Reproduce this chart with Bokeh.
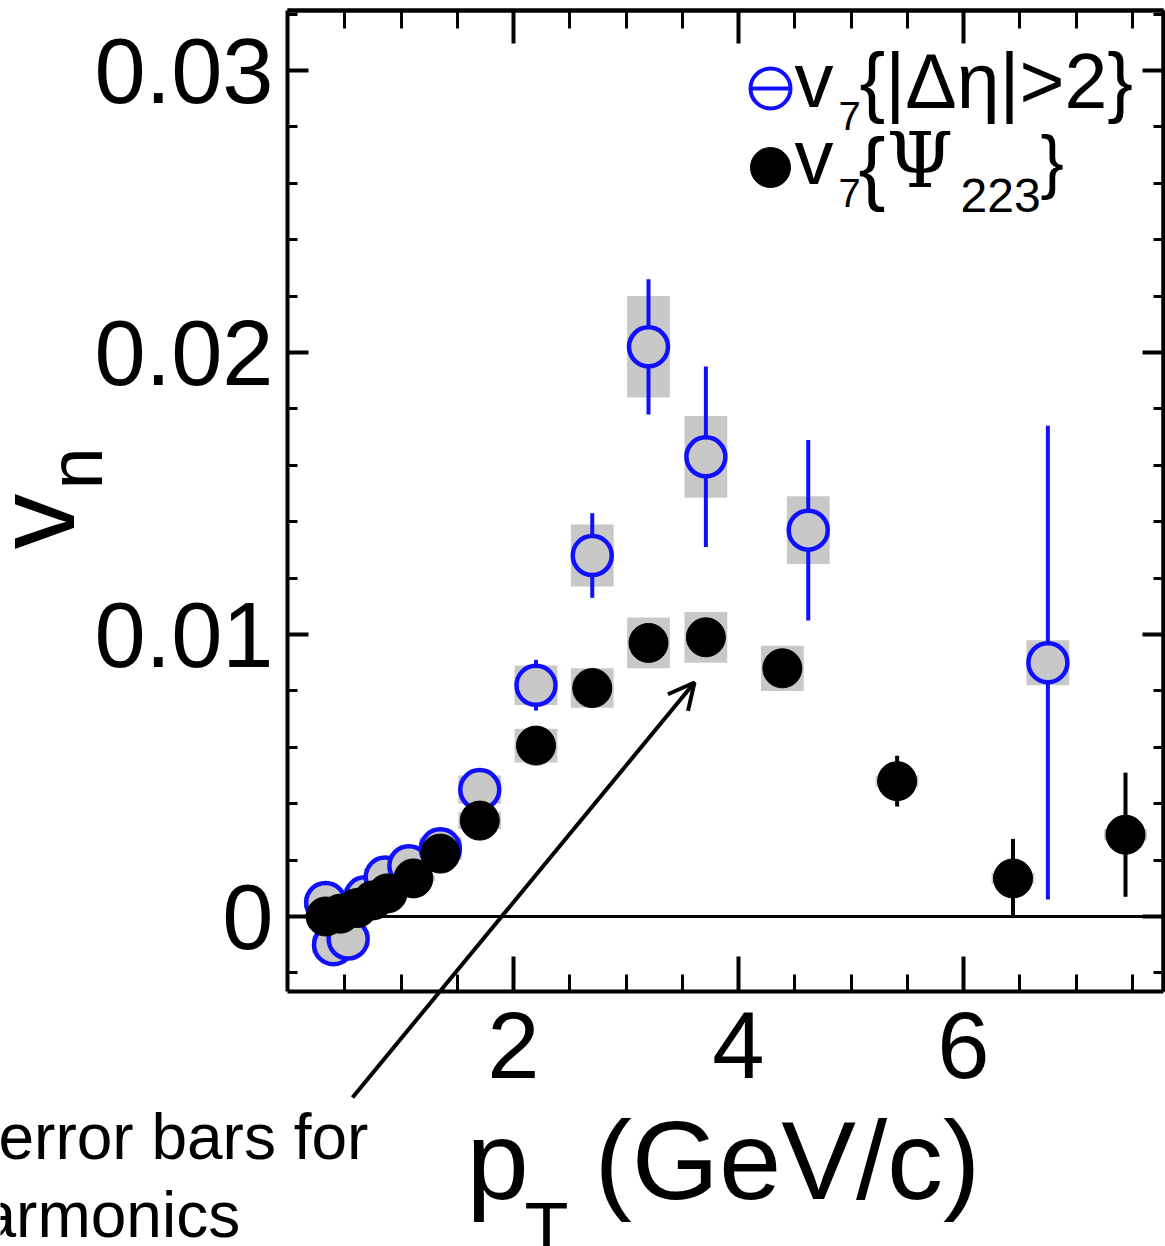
import math
from bokeh.plotting import figure
from bokeh.models import (LinearAxis, FixedTicker, NumeralTickFormatter, Range1d,
                          Label, Arrow, OpenHead)
from bokeh.embed import file_html
from bokeh.resources import INLINE

# v7{|Δη|>2}: pT, value, statistical and systematic uncertainty
eta_pt = [0.33, 0.40, 0.53, 0.68, 0.86, 1.07, 1.35, 1.70, 2.20, 2.70, 3.20, 3.71, 4.62, 6.75]
eta_v7 = [0.0005, -0.0010, -0.0008, 0.0007, 0.0014, 0.0018, 0.0024, 0.0045, 0.0082, 0.0128,
          0.0202, 0.0163, 0.0137, 0.0090]
eta_stat = [0.0002, 0.0003, 0.0003, 0.0003, 0.0003, 0.0003, 0.0003, 0.0004, 0.0009, 0.0015,
            0.0024, 0.0032, 0.0032, 0.0084]
eta_sys = [0.0002, 0.0003, 0.0003, 0.0003, 0.0003, 0.0003, 0.0004, 0.0005, 0.0007, 0.0011,
           0.0018, 0.00145, 0.0012, 0.0008]

# v7{Ψ223}
psi_pt = [0.33, 0.46, 0.61, 0.75, 0.88, 1.11, 1.35, 1.70, 2.20, 2.70, 3.20, 3.71, 4.39,
          5.41, 6.44, 7.44]
psi_v7 = [0.0000, 0.0001, 0.0003, 0.00057, 0.00082, 0.00135, 0.00223, 0.0034, 0.00606,
          0.0081, 0.0097, 0.0099, 0.0088, 0.0048, 0.00135, 0.0029]
psi_stat = [0.0001, 0.0001, 0.0001, 0.0001, 0.0001, 0.0001, 0.0002, 0.0002, 0.0002, 0.0003,
            0.0003, 0.0003, 0.0003, 0.0009, 0.0014, 0.0022]
psi_sys = [0.0001, 0.0001, 0.0001, 0.0001, 0.0001, 0.0001, 0.0002, 0.0003, 0.0006, 0.0007,
           0.0009, 0.0009, 0.0008, 0.0002, 0.0002, 0.0002]

x_major = [2, 4, 6]
x_minor = [0.5 * i for i in range(1, 16) if i % 4 != 0]
y_major = [0, 0.01, 0.02, 0.03]
y_minor = [round(-0.002 + 0.002 * i, 3) for i in range(18) if i % 5 != 1]

BLUE = "#1010ff"
GRAY = "#c8c8c8"
FONT = "Liberation Sans"
SERIF = "DejaVu Serif"

W, H = 1165, 1246
# pixel geometry of the boxed plotting area inside the canvas
FL, FR, FT, FB = 287, 1163, 10, 991
X0PX, XSCALE = 288, 112.5     # x=0 column and px per GeV/c
Y0PX, YSCALE = 916, 28200     # v=0 row and px per unit
BASE_SHIFT = 0.36             # label anchor sits this many em above the drawn baseline


def dx(px):
    return (px - X0PX) / XSCALE


def dy(py):
    return (Y0PX - py) / YSCALE


# the data frame spans the whole canvas; the box is drawn by fixed-location axes
p = figure(width=W, height=H, output_backend="svg", toolbar_location=None,
           x_range=Range1d(dx(0), dx(W)), y_range=Range1d(dy(H), dy(0)),
           x_axis_location=None, y_axis_location=None, min_border=0)
p.outline_line_color = None
p.background_fill_color = "white"
p.border_fill_color = "white"
p.grid.grid_line_color = None

XB = (dx(FL), dx(FR))
YB = (dy(FB), dy(FT))


def style_axis(ax, major_in, minor_in):
    ax.axis_line_width = 4
    ax.axis_line_color = "black"
    ax.major_tick_in = major_in
    ax.major_tick_out = 0
    ax.minor_tick_in = minor_in
    ax.minor_tick_out = 0
    ax.major_tick_line_width = 4
    ax.minor_tick_line_width = 3
    ax.major_tick_line_color = "black"
    ax.minor_tick_line_color = "black"
    ax.major_label_text_font = FONT
    ax.major_label_text_font_style = "normal"
    ax.major_label_text_color = "black"
    ax.axis_label = None


def bare_axis(ticks, length, width, side, loc, bounds):
    # an axis that only carries inward ticks and no labels
    ax = LinearAxis(ticker=FixedTicker(ticks=[], minor_ticks=ticks),
                    fixed_location=loc, bounds=bounds)
    style_axis(ax, 0, length)
    ax.minor_tick_line_width = width
    ax.major_label_standoff = 0
    p.add_layout(ax, side)


bottom = LinearAxis(ticker=FixedTicker(ticks=x_major, minor_ticks=x_minor),
                    fixed_location=dy(FB), bounds=XB)
style_axis(bottom, 35, 17)
bottom.major_label_text_font_size = "94px"
bottom.major_label_standoff = 21
p.add_layout(bottom, "below")

left = LinearAxis(ticker=FixedTicker(ticks=y_major, minor_ticks=y_minor),
                  formatter=NumeralTickFormatter(format="0.[00]"),
                  fixed_location=dx(FL), bounds=YB)
style_axis(left, 21, 10)
left.major_label_text_font_size = "92px"
left.major_label_standoff = 14
p.add_layout(left, "left")

bare_axis(x_minor, 18, 3, "above", dy(FT), XB)
bare_axis(x_major, 33, 4, "above", dy(FT), XB)
bare_axis(y_minor, 10, 3, "right", dx(FR), YB)
bare_axis(y_major, 21, 4, "right", dx(FR), YB)

# zero line across the box
p.segment(x0=[XB[0]], x1=[XB[1]], y0=[0], y1=[0], line_color="black", line_width=3)

BOXW = 0.38

# systematic boxes
p.rect(x=eta_pt, y=eta_v7, width=BOXW, height=[2 * s for s in eta_sys],
       fill_color=GRAY, line_color=None)
p.rect(x=psi_pt, y=psi_v7, width=BOXW, height=[2 * s for s in psi_sys],
       fill_color=GRAY, line_color=None)

# statistical error bars and points
p.segment(x0=eta_pt, x1=eta_pt, y0=[v - e for v, e in zip(eta_v7, eta_stat)],
          y1=[v + e for v, e in zip(eta_v7, eta_stat)], line_color=BLUE, line_width=4)
p.scatter(x=eta_pt, y=eta_v7, size=39, marker="circle", fill_color=GRAY,
          line_color=BLUE, line_width=4.5)

p.segment(x0=psi_pt, x1=psi_pt, y0=[v - e for v, e in zip(psi_v7, psi_stat)],
          y1=[v + e for v, e in zip(psi_v7, psi_stat)], line_color="black", line_width=4)
p.scatter(x=psi_pt, y=psi_v7, size=39, marker="circle", fill_color="black",
          line_color="black", line_width=1)

# legend markers
p.scatter(x=[dx(770)], y=[dy(88)], size=40, marker="circle", fill_color="white",
          line_color=BLUE, line_width=4)
p.scatter(x=[dx(770)], y=[dy(88)], size=42, marker="dash", line_color=BLUE, line_width=4)
p.scatter(x=[dx(770)], y=[dy(167)], size=40, marker="circle", fill_color="black",
          line_color="black")


def label(text, px, py, size, font=FONT, rotated=False):
    # (px, py) is the left end of the text baseline in canvas pixels
    shift = BASE_SHIFT * size
    if rotated:
        x, y, angle = px - shift, py, math.pi / 2
    else:
        x, y, angle = px, py - shift, 0.0
    p.add_layout(Label(x=x, y=y, x_units="canvas", y_units="canvas", text=text,
                       text_font=font, text_font_size=f"{size}px", text_color="black",
                       text_align="left", text_baseline="alphabetic", angle=angle))


# legend entries
label("v", 794, 108, 78)
label("7", 838, 130, 40)
label("{|Δη|>2}", 859, 108, 77)
label("v", 794, 185, 78)
label("7", 838, 207, 40)
label("{", 858, 196, 81)
label("Ψ", 886, 187, 76, font=SERIF)
label("223", 960, 212, 48)
label("}", 1040, 186, 70)

# axis titles
label("p", 466, 1200, 112)
label("T", 524, 1253, 72)
label("(GeV/c)", 594, 1200, 112)
label("v", 75, 549, 112, rotated=True)
label("n", 102, 489, 76, rotated=True)

# annotation text and arrow
label("error bars for", -2, 1160, 64)
label("armonics", -20, 1238, 64)
p.add_layout(Arrow(end=OpenHead(size=26, line_width=4, line_color="black"),
                   x_start=dx(352), y_start=dy(1097), x_end=dx(694), y_end=dy(682),
                   line_width=4, line_color="black"))

open("out.html", "w").write(file_html(p, INLINE))
